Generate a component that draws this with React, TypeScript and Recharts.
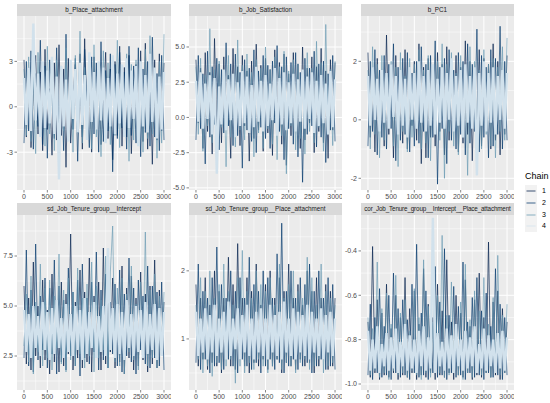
import { CartesianGrid, Line, LineChart, XAxis, YAxis } from "recharts";

const CHAINS = ["1", "2", "3", "4"];
const CHAIN_COLORS = ["#011f4b", "#03396c", "#6497b1", "#d1e1ec"];
const X_TICKS = [0, 500, 1000, 1500, 2000, 2500, 3000];
const X_MINOR = [250, 750, 1250, 1750, 2250, 2750];
// one value per 50 iterations, 0..3000
const ITERATIONS = Array.from({ length: 61 }, (_, i) => i * 50);

// b_Place_attachment
const placeC1 = [
  3.1, -2.0, 2.6, -2.7, 0.9, 3.4, -1.8, 2.3, -2.9, 3.8,
  -1.5, 1.2, -3.2, 2.9, -2.2, 4.1, -1.9, 2.5, -4.0, 3.2,
  -2.4, 0.6, 2.8, -1.7, 3.5, -2.8, 4.5, -2.0, 2.4, -3.0,
  3.3, -1.4, 2.7, -2.5, 0.2, 3.6, -2.1, 2.5, -3.5, 3.0,
  -1.9, 4.0, -2.6, 2.6, -2.0, 3.4, -3.1, 1.5, 2.8, -1.8,
  3.7, -2.3, 4.2, -2.8, 2.5, -3.8, 3.1, -2.2, 3.5, -1.6,
  2.9,
];
const placeC2 = [
  -2.4, 3.0, -1.6, 3.7, -2.8, 2.2, -1.3, 4.4, -2.5, 2.7,
  -3.4, 3.1, 0.8, -2.1, 3.9, -1.7, 2.5, -2.9, 4.8, -2.2,
  2.6, -1.5, 3.2, -3.6, 2.1, -2.0, 3.8, 0.4, -2.7, 3.3,
  -1.8, 2.9, -3.0, 4.3, -2.3, 2.4, -1.6, 3.5, -4.3, 2.8,
  -2.1, 3.6, -1.4, 2.3, -2.8, 4.0, -1.9, 2.7, -2.4, 3.9,
  -3.3, 2.5, -1.7, 3.0, -2.6, 4.6, -2.0, 2.2, -2.9, 3.4,
  -2.2,
];
const placeC3 = [
  2.5, -1.9, 3.3, -2.3, 2.0, -3.1, 3.6, -1.5, 2.8, -2.6,
  4.0, -1.8, 2.4, -2.9, 3.1, -4.3, 2.7, -1.6, 3.9, -2.1,
  2.2, -3.0, 3.4, -1.7, 5.0, -2.4, 2.6, -1.4, 3.0, -2.8,
  4.1, -2.0, 2.3, -3.3, 3.7, -1.6, 2.9, -2.5, 3.2, -1.9,
  4.4, -2.7, 2.5, -1.5, 3.5, -3.6, 2.8, -2.2, 3.1, -1.7,
  2.6, -3.0, 3.8, -2.1, 4.7, -1.8, 2.4, -3.4, 3.0, -2.4,
  4.8,
];
const placeC4 = [
  1.9, -1.2, 2.6, -1.6, 5.5, -0.9, 2.2, -2.0, 3.0, -1.4,
  2.4, -1.1, 3.3, -1.8, 2.0, -4.8, 2.7, -1.3, 1.8, -2.3,
  3.1, -0.8, 2.5, -1.7, 2.9, -1.2, 2.1, -2.2, 3.6, -1.0,
  2.3, -1.5, 3.0, -0.9, 2.6, -2.4, 1.9, -1.3, 3.4, -1.8,
  2.2, -1.1, 2.8, -2.0, 3.2, -1.4, 2.4, -0.8, 2.7, -2.6,
  3.0, -1.3, 2.1, -1.7, 3.5, -1.0, 2.6, -2.1, 2.0, -1.5,
  2.3,
];

// b_Job_Satisfaction
const jobC1 = [
  4.1, -0.4, 3.5, -2.2, 4.6, -1.0, 3.2, -2.6, 5.6, -0.7,
  3.8, -1.8, 4.3, -0.3, 3.0, -2.9, 4.9, -1.2, 3.6, -2.0,
  4.4, -0.6, 3.3, -3.1, 4.0, -1.5, 5.2, -0.9, 3.7, -2.4,
  4.2, -1.1, 3.4, -2.7, 4.8, -0.5, 3.9, -1.9, 4.5, -3.4,
  3.1, -1.3, 4.6, -0.8, 3.8, -2.2, 5.0, -1.6, 3.5, -0.4,
  4.3, -2.5, 3.6, -1.0, 4.9, -1.8, 3.3, -2.9, 4.1, -0.9,
  3.9,
];
const jobC2 = [
  -1.6, 4.4, -0.8, 3.1, -3.3, 4.7, -1.4, 3.6, -0.5, 4.2,
  -2.3, 3.4, -1.1, 5.3, -0.6, 3.8, -2.0, 4.5, -1.3, 3.2,
  -3.6, 4.1, -0.9, 3.5, -1.7, 4.8, -2.5, 3.3, -0.7, 4.4,
  -1.5, 3.7, -2.2, 4.0, -0.4, 5.1, -1.0, 3.6, -3.0, 4.3,
  -0.8, 3.9, -1.9, 4.6, -2.8, 3.2, -4.6, 4.2, -1.2, 3.5,
  -0.6, 4.7, -2.1, 3.8, -1.4, 4.0, -3.2, 3.1, -0.9, 4.4,
  -1.7,
];
const jobC3 = [
  3.6, -1.2, 4.2, -2.4, 3.0, -0.6, 6.3, -1.8, 3.4, -2.9,
  4.0, -0.7, 3.3, -3.5, 4.4, -1.4, 3.1, -2.1, 5.5, -0.9,
  3.7, -1.6, 4.5, -0.5, 3.2, -2.8, 4.1, -1.1, 3.5, -2.2,
  5.0, -0.8, 3.4, -1.9, 4.3, -3.0, 3.6, -1.3, 4.7, -4.0,
  3.3, -0.6, 4.1, -2.3, 3.8, -1.5, 3.0, -2.6, 4.6, -1.0,
  3.5, -1.8, 5.4, -0.7, 3.9, -2.4, 6.6, -1.2, 3.4, -2.0,
  4.0,
];
const jobC4 = [
  2.6, -0.3, 3.2, -0.8, 2.4, -0.1, 3.0, -1.2, 2.8, -4.0,
  2.2, -0.5, 3.4, -0.9, 2.7, -0.2, 3.1, -1.4, 2.5, -0.6,
  3.3, -0.4, 2.9, -1.1, 2.3, -0.7, 3.6, -0.3, 2.6, -1.0,
  3.0, -0.6, 2.4, -0.2, 3.5, -1.3, 2.8, -0.5, 3.2, -0.9,
  2.5, -0.4, 3.1, -1.0, 2.7, -0.3, 3.4, -0.8, 2.9, -0.1,
  3.2, -1.1, 2.6, -0.6, 3.0, -0.4, 2.4, -1.2, 3.3, -0.7,
  2.7,
];

// b_PC1
const pcC1 = [
  2.3, -0.6, 1.8, -1.1, 2.1, -0.3, 1.6, -0.9, 2.9, -0.5,
  1.9, -1.3, 2.2, -0.4, 1.7, -0.8, 2.4, -1.0, 1.5, -0.2,
  2.0, -0.7, 2.6, -1.5, 1.8, -1.3, 2.1, -0.6, 1.7, -0.9,
  2.3, -0.4, 1.9, -1.2, 2.5, -0.7, 1.6, -0.3, 2.2, -1.1,
  1.8, -0.8, 2.7, -0.5, 2.0, -1.4, 1.7, -0.6, 2.4, -0.9,
  2.1, -0.3, 1.9, -1.0, 2.6, -0.7, 2.0, -1.2, 1.7, -0.5,
  2.2,
];
const pcC2 = [
  -0.9, 2.0, -0.4, 2.4, -1.2, 1.7, -0.6, 2.2, -1.0, 1.9,
  -0.3, 2.6, -1.4, 1.8, -0.7, 2.1, -0.5, 2.3, -1.1, 1.6,
  -0.9, 2.0, -0.8, 2.5, -0.4, 1.9, -1.3, 2.2, -0.6, 2.7,
  -2.2, 1.8, -0.3, 2.1, -1.5, 2.4, -0.7, 1.7, -1.0, 2.3,
  -0.5, 2.0, -1.2, 2.6, -0.8, 1.9, -0.4, 3.1, -1.1, 2.2,
  -0.6, 1.8, -1.3, 2.4, -0.9, 2.1, -0.5, 3.2, -1.0, 2.0,
  -0.7,
];
const pcC3 = [
  1.7, -1.0, 2.5, -0.5, 1.9, -1.3, 2.2, -0.7, 1.6, -0.2,
  2.0, -0.9, 1.8, -1.6, 2.3, -0.4, 1.5, -1.1, 2.1, -0.6,
  1.9, -0.3, 2.4, -1.0, 1.7, -0.8, 2.2, -1.4, 1.8, -0.5,
  2.0, -0.7, 2.6, -2.0, 1.9, -0.4, 2.3, -0.9, 1.6, -1.2,
  2.2, -0.6, 1.8, -1.9, 2.5, -0.3, 2.0, -0.8, 1.7, -1.0,
  2.4, -0.5, 1.9, -0.9, 2.1, -1.3, 1.8, -0.4, 2.5, -0.7,
  2.8,
];
const pcC4 = [
  1.5, -0.2, 1.8, 0.0, 1.4, -0.4, 1.7, -0.1, 1.6, -0.3,
  1.9, 0.1, 1.5, -0.5, 1.7, -0.2, 1.4, -0.6, 1.8, 0.0,
  1.6, -0.3, 2.0, -0.1, 1.5, -0.4, 1.7, -0.2, 1.9, -0.5,
  1.4, -0.1, 1.8, -0.3, 1.6, 0.0, 2.1, -0.4, 1.5, -0.2,
  1.7, -0.6, 1.9, -0.1, 1.5, -0.3, 1.8, -1.9, 1.6, -0.2,
  2.0, -0.4, 1.6, -0.1, 1.8, -0.5, 1.5, 0.0, 1.7, -0.3,
  1.6,
];

// sd_Job_Tenure_group__Intercept
const sdIntC1 = [
  6.0, 2.1, 5.4, 1.8, 7.2, 2.5, 5.0, 1.9, 6.3, 2.3,
  4.8, 1.6, 6.6, 2.2, 5.3, 1.7, 6.2, 2.0, 5.6, 2.6,
  8.6, 1.8, 5.2, 2.4, 6.8, 1.9, 5.7, 2.2, 7.4, 1.7,
  5.5, 2.5, 6.2, 1.8, 7.9, 2.1, 5.8, 2.7, 6.4, 1.9,
  5.1, 2.2, 7.0, 1.6, 5.9, 2.4, 6.5, 1.8, 5.4, 2.0,
  6.7, 2.3, 5.6, 1.7, 6.0, 2.1, 7.3, 1.9, 5.8, 2.5,
  5.2,
];
const sdIntC2 = [
  2.4, 7.8, 2.0, 5.8, 1.7, 8.1, 2.3, 5.5, 2.8, 6.4,
  1.9, 5.9, 2.6, 7.3, 1.6, 6.0, 2.2, 5.3, 1.8, 6.9,
  2.5, 5.7, 2.0, 6.3, 1.5, 7.1, 2.4, 5.4, 2.1, 6.2,
  2.7, 7.7, 1.8, 5.8, 2.3, 6.6, 1.9, 5.2, 2.6, 6.1,
  2.0, 6.8, 1.7, 5.6, 2.5, 7.4, 2.2, 5.9, 1.6, 6.3,
  2.8, 5.5, 2.1, 7.0, 1.9, 6.0, 2.4, 5.7, 2.0, 6.2,
  1.8,
];
const sdIntC3 = [
  3.0, 5.6, 2.2, 6.5, 1.6, 5.2, 2.7, 7.1, 2.0, 5.9,
  2.4, 6.3, 1.8, 5.5, 2.9, 7.6, 2.1, 5.8, 1.7, 6.4,
  2.3, 5.7, 2.0, 6.9, 2.6, 5.4, 1.9, 6.1, 2.5, 7.2,
  1.7, 6.0, 2.4, 5.3, 2.8, 7.5, 1.9, 6.7, 9.0, 2.2,
  5.9, 2.0, 6.4, 1.6, 5.6, 2.7, 7.0, 2.3, 5.1, 1.8,
  6.2, 2.5, 8.7, 2.0, 5.8, 2.4, 6.6, 1.9, 5.5, 2.7,
  5.7,
];
const sdIntC4 = [
  4.8, 2.7, 4.6, 2.4, 5.0, 2.9, 4.5, 2.5, 5.2, 2.8,
  4.7, 2.3, 4.9, 2.6, 5.3, 2.9, 4.4, 2.4, 5.1, 2.7,
  4.6, 2.5, 5.0, 2.8, 4.8, 2.3, 5.4, 2.6, 4.7, 2.9,
  5.2, 2.4, 4.5, 2.7, 5.0, 2.5, 7.9, 2.8, 4.9, 2.4,
  5.1, 2.6, 4.7, 2.3, 5.3, 2.9, 4.6, 2.5, 5.0, 2.7,
  4.8, 2.4, 5.2, 2.6, 4.6, 2.8, 5.1, 2.3, 4.9, 2.5,
  4.7,
];

// sd_Job_Tenure_group__Place_attachment
const sdPlaceC1 = [
  1.8, 0.6, 1.6, 0.7, 1.9, 0.55, 1.5, 0.65, 2.0, 0.6,
  1.7, 0.5, 1.6, 0.75, 2.2, 0.6, 1.8, 0.55, 2.4, 0.7,
  1.6, 0.6, 1.9, 0.5, 1.7, 0.65, 2.1, 0.6, 1.5, 0.7,
  1.8, 0.55, 2.0, 0.6, 1.6, 0.7, 1.9, 0.5, 1.7, 0.65,
  2.1, 0.6, 1.6, 0.55, 1.8, 0.7, 1.5, 0.6, 2.0, 0.65,
  1.7, 0.5, 1.9, 0.6, 1.6, 0.7, 1.8, 0.55, 1.7, 0.6,
  1.6,
];
const sdPlaceC2 = [
  0.65, 2.1, 0.55, 1.7, 0.7, 1.6, 0.5, 1.9, 0.6, 2.35,
  0.65, 1.8, 0.55, 1.6, 0.7, 2.0, 0.6, 1.7, 0.5, 1.9,
  0.7, 1.6, 0.6, 2.2, 0.55, 1.8, 0.65, 1.7, 0.5, 2.0,
  0.6, 1.9, 0.7, 1.6, 0.55, 2.25, 0.65, 2.7, 0.5, 1.7,
  0.6, 2.0, 0.7, 1.6, 0.55, 1.9, 0.6, 1.8, 0.65, 2.1,
  0.5, 1.7, 0.6, 2.0, 0.7, 1.6, 0.55, 1.9, 0.6, 1.8,
  0.55,
];
const sdPlaceC3 = [
  1.5, 0.7, 1.9, 0.5, 1.7, 0.6, 2.0, 0.45, 1.6, 0.65,
  1.8, 0.55, 2.1, 0.6, 1.7, 0.7, 1.5, 0.35, 1.9, 0.6,
  2.3, 0.5, 1.7, 0.65, 1.6, 0.55, 2.0, 0.7, 1.8, 0.6,
  1.7, 0.5, 1.9, 0.6, 1.5, 0.7, 2.1, 0.55, 1.6, 0.65,
  1.8, 0.6, 2.0, 0.5, 1.7, 0.65, 1.6, 0.7, 2.2, 0.55,
  1.9, 0.6, 1.5, 0.7, 2.1, 0.5, 1.7, 0.6, 1.6, 0.65,
  1.5,
];
const sdPlaceC4 = [
  1.4, 0.75, 1.3, 0.8, 1.45, 0.7, 1.35, 0.8, 1.5, 0.75,
  1.3, 0.8, 1.4, 0.7, 1.55, 0.75, 1.3, 0.85, 1.45, 0.7,
  1.35, 0.8, 1.5, 0.75, 1.3, 0.7, 1.4, 0.8, 1.45, 0.75,
  1.3, 0.7, 1.5, 0.8, 1.35, 0.75, 1.4, 0.7, 1.55, 0.8,
  1.3, 0.75, 1.45, 0.7, 1.4, 0.8, 1.35, 0.75, 1.5, 0.7,
  1.4, 0.8, 1.3, 0.75, 1.45, 0.7, 1.35, 0.8, 1.4, 0.75,
  1.3,
];

// cor_Job_Tenure_group__Intercept__Place_attachment
const corC1 = [
  -0.72, -0.97, -0.38, -0.95, -0.62, -0.98, -0.68, -0.96, -0.55, -0.97,
  -0.75, -0.95, -0.6, -0.98, -0.7, -0.96, -0.52, -0.97, -0.66, -0.95,
  -0.58, -0.98, -0.73, -0.96, -0.48, -0.97, -0.64, -0.95, -0.7, -0.98,
  -0.55, -0.96, -0.67, -0.97, -0.44, -0.95, -0.72, -0.98, -0.6, -0.96,
  -0.68, -0.97, -0.53, -0.95, -0.74, -0.98, -0.62, -0.96, -0.5, -0.97,
  -0.7, -0.95, -0.36, -0.97, -0.63, -0.96, -0.58, -0.98, -0.66, -0.95,
  -0.72,
];
const corC2 = [
  -0.96, -0.64, -0.98, -0.7, -0.95, -0.57, -0.97, -0.74, -0.96, -0.6,
  -0.98, -0.5, -0.95, -0.66, -0.97, -0.62, -0.96, -0.71, -0.98, -0.55,
  -0.95, -0.37, -0.97, -0.68, -0.96, -0.58, -0.98, -0.73, -0.95, -0.47,
  -0.97, -0.63, -0.96, -0.39, -0.98, -0.69, -0.95, -0.56, -0.97, -0.65,
  -0.96, -0.45, -0.98, -0.72, -0.95, -0.61, -0.97, -0.52, -0.96, -0.67,
  -0.98, -0.59, -0.95, -0.74, -0.97, -0.48, -0.96, -0.64, -0.98, -0.7,
  -0.96,
];
const corC3 = [
  -0.7, -0.96, -0.75, -0.94, -0.45, -0.97, -0.66, -0.95, -0.59, -0.98,
  -0.73, -0.94, -0.51, -0.96, -0.68, -0.95, -0.62, -0.97, -0.76, -0.94,
  -0.57, -0.96, -0.7, -0.98, -0.44, -0.95, -0.65, -0.97, -0.72, -0.94,
  -0.6, -0.95, -0.33, -0.97, -0.69, -0.96, -0.54, -0.94, -0.74, -0.96,
  -0.63, -0.98, -0.46, -0.95, -0.71, -0.97, -0.58, -0.94, -0.67, -0.96,
  -0.52, -0.95, -0.73, -0.97, -0.61, -0.94, -0.42, -0.96, -0.69, -0.95,
  -0.64,
];
const corC4 = [
  -0.76, -0.94, -0.8, -0.93, -0.74, -0.95, -0.82, -0.92, -0.77, -0.94,
  -0.79, -0.93, -0.75, -0.95, -0.81, -0.92, -0.73, -0.94, -0.78, -0.93,
  -0.8, -0.95, -0.76, -0.92, -0.74, -0.94, -0.79, -0.93, -0.25, -0.95,
  -0.77, -0.92, -0.81, -0.94, -0.75, -0.93, -0.78, -0.95, -0.73, -0.92,
  -0.8, -0.94, -0.76, -0.93, -0.79, -0.92, -0.74, -0.95, -0.82, -0.93,
  -0.75, -0.94, -0.78, -0.92, -0.8, -0.95, -0.77, -0.93, -0.76, -0.94,
  -0.79,
];

const fixed1 = (v: number) => v.toFixed(1);
const plain = (v: number) => String(v);

const PANELS = [
  { title: "b_Place_attachment", chains: [placeC1, placeC2, placeC3, placeC4], domain: [-5.5, 6.0], ticks: [-3, 0, 3], minor: [-4.5, -1.5, 1.5, 4.5], fmt: plain, left: 17, top: 16, w: 154, h: 174 },
  { title: "b_Job_Satisfaction", chains: [jobC1, jobC2, jobC3, jobC4], domain: [-5.15, 7.2], ticks: [-5, -2.5, 0, 2.5, 5], minor: [-3.75, -1.25, 1.25, 3.75, 6.25], fmt: fixed1, left: 189, top: 16, w: 153, h: 174 },
  { title: "b_PC1", chains: [pcC1, pcC2, pcC3, pcC4], domain: [-2.4, 3.55], ticks: [-2, 0, 2], minor: [-1, 1, 3], fmt: plain, left: 361, top: 16, w: 153, h: 174 },
  { title: "sd_Job_Tenure_group__Intercept", chains: [sdIntC1, sdIntC2, sdIntC3, sdIntC4], domain: [0.8, 9.55], ticks: [2.5, 5, 7.5], minor: [1.25, 3.75, 6.25, 8.75], fmt: fixed1, left: 17, top: 215, w: 154, h: 175 },
  { title: "sd_Job_Tenure_group__Place_attachment", chains: [sdPlaceC1, sdPlaceC2, sdPlaceC3, sdPlaceC4], domain: [0.25, 2.82], ticks: [1, 2], minor: [0.5, 1.5, 2.5], fmt: plain, left: 189, top: 215, w: 153, h: 175 },
  { title: "cor_Job_Tenure_group__Intercept__Place_attachment", chains: [corC1, corC2, corC3, corC4], domain: [-1.027, -0.238], ticks: [-1.0, -0.8, -0.6, -0.4], minor: [-0.9, -0.7, -0.5, -0.3], fmt: fixed1, left: 361, top: 215, w: 153, h: 175 },
];

const FONT = "'Liberation Sans', Arial, sans-serif";
const AXIS_W = 22;
const LINE_WIDTHS = [0.75, 0.75, 0.7, 2.4];
const LINE_OPACITY = [0.9, 0.9, 0.9, 1];

function buildRows(chains: number[][]) {
  return ITERATIONS.map((iter, i) => ({
    iter,
    c1: chains[0][i],
    c2: chains[1][i],
    c3: chains[2][i],
    c4: chains[3][i],
  }));
}

function TracePanel({ p }: { p: (typeof PANELS)[number] }) {
  const rows = buildRows(p.chains);
  return (
    <>
      <div
        style={{
          position: "absolute",
          left: p.left,
          top: p.top - 12,
          width: p.w,
          height: 12,
          background: "#D9D9D9",
          color: "#1A1A1A",
          fontSize: 6.3,
          lineHeight: "12px",
          textAlign: "center",
          whiteSpace: "nowrap",
          letterSpacing: p.title.length > 40 ? -0.15 : 0,
        }}
      >
        {p.title}
      </div>
      <div style={{ position: "absolute", left: p.left - AXIS_W, top: p.top }}>
        <LineChart
          width={p.w + AXIS_W}
          height={p.h + 14}
          data={rows}
          margin={{ top: 0, right: 0, bottom: 0, left: 0 }}
        >
          <CartesianGrid
            fill="#EBEBEB"
            stroke="#FFFFFF"
            strokeWidth={0.5}
            horizontalValues={p.minor}
            verticalValues={X_MINOR}
          />
          <CartesianGrid
            stroke="#FFFFFF"
            strokeWidth={1}
            horizontalValues={p.ticks}
            verticalValues={X_TICKS}
          />
          <XAxis
            type="number"
            dataKey="iter"
            domain={[-150, 3150]}
            ticks={X_TICKS}
            interval={0}
            height={14}
            tickSize={2.5}
            tickMargin={2}
            axisLine={false}
            tickLine={{ stroke: "#333333", strokeWidth: 0.6 }}
            tick={{ fontSize: 7, fill: "#4D4D4D", fontFamily: FONT }}
            allowDataOverflow
          />
          <YAxis
            type="number"
            domain={p.domain}
            ticks={p.ticks}
            interval={0}
            width={AXIS_W}
            tickSize={2.5}
            tickMargin={1.5}
            axisLine={false}
            tickLine={{ stroke: "#333333", strokeWidth: 0.6 }}
            tick={{ fontSize: 7, fill: "#4D4D4D", fontFamily: FONT }}
            tickFormatter={p.fmt}
            allowDataOverflow
          />
          {CHAINS.map((c, i) => (
            <Line
              key={c}
              type="linear"
              dataKey={`c${c}`}
              stroke={CHAIN_COLORS[i]}
              strokeWidth={LINE_WIDTHS[i]}
              strokeOpacity={LINE_OPACITY[i]}
              dot={false}
              activeDot={false}
              isAnimationActive={false}
            />
          ))}
        </LineChart>
      </div>
    </>
  );
}

export default function App() {
  return (
    <div
      style={{
        position: "absolute",
        left: 0,
        top: 0,
        width: 550,
        height: 403,
        background: "#FFFFFF",
        fontFamily: FONT,
        overflow: "hidden",
      }}
    >
      {PANELS.map((p) => (
        <TracePanel key={p.title} p={p} />
      ))}
      <div style={{ position: "absolute", left: 525, top: 171, fontSize: 9, color: "#000000" }}>
        Chain
      </div>
      {CHAINS.map((c, i) => (
        <div key={c}>
          <svg
            width={12}
            height={12}
            style={{ position: "absolute", left: 525, top: 185 + i * 11.8 }}
          >
            <rect x={0} y={0} width={12} height={12} fill="#F2F2F2" />
            <line x1={1.5} x2={10.5} y1={6} y2={6} stroke={CHAIN_COLORS[i]} strokeWidth={1.4} strokeOpacity={0.55} />
          </svg>
          <div
            style={{
              position: "absolute",
              left: 542,
              top: 185 + i * 11.8,
              fontSize: 7,
              lineHeight: "12px",
              color: "#000000",
            }}
          >
            {c}
          </div>
        </div>
      ))}
    </div>
  );
}
